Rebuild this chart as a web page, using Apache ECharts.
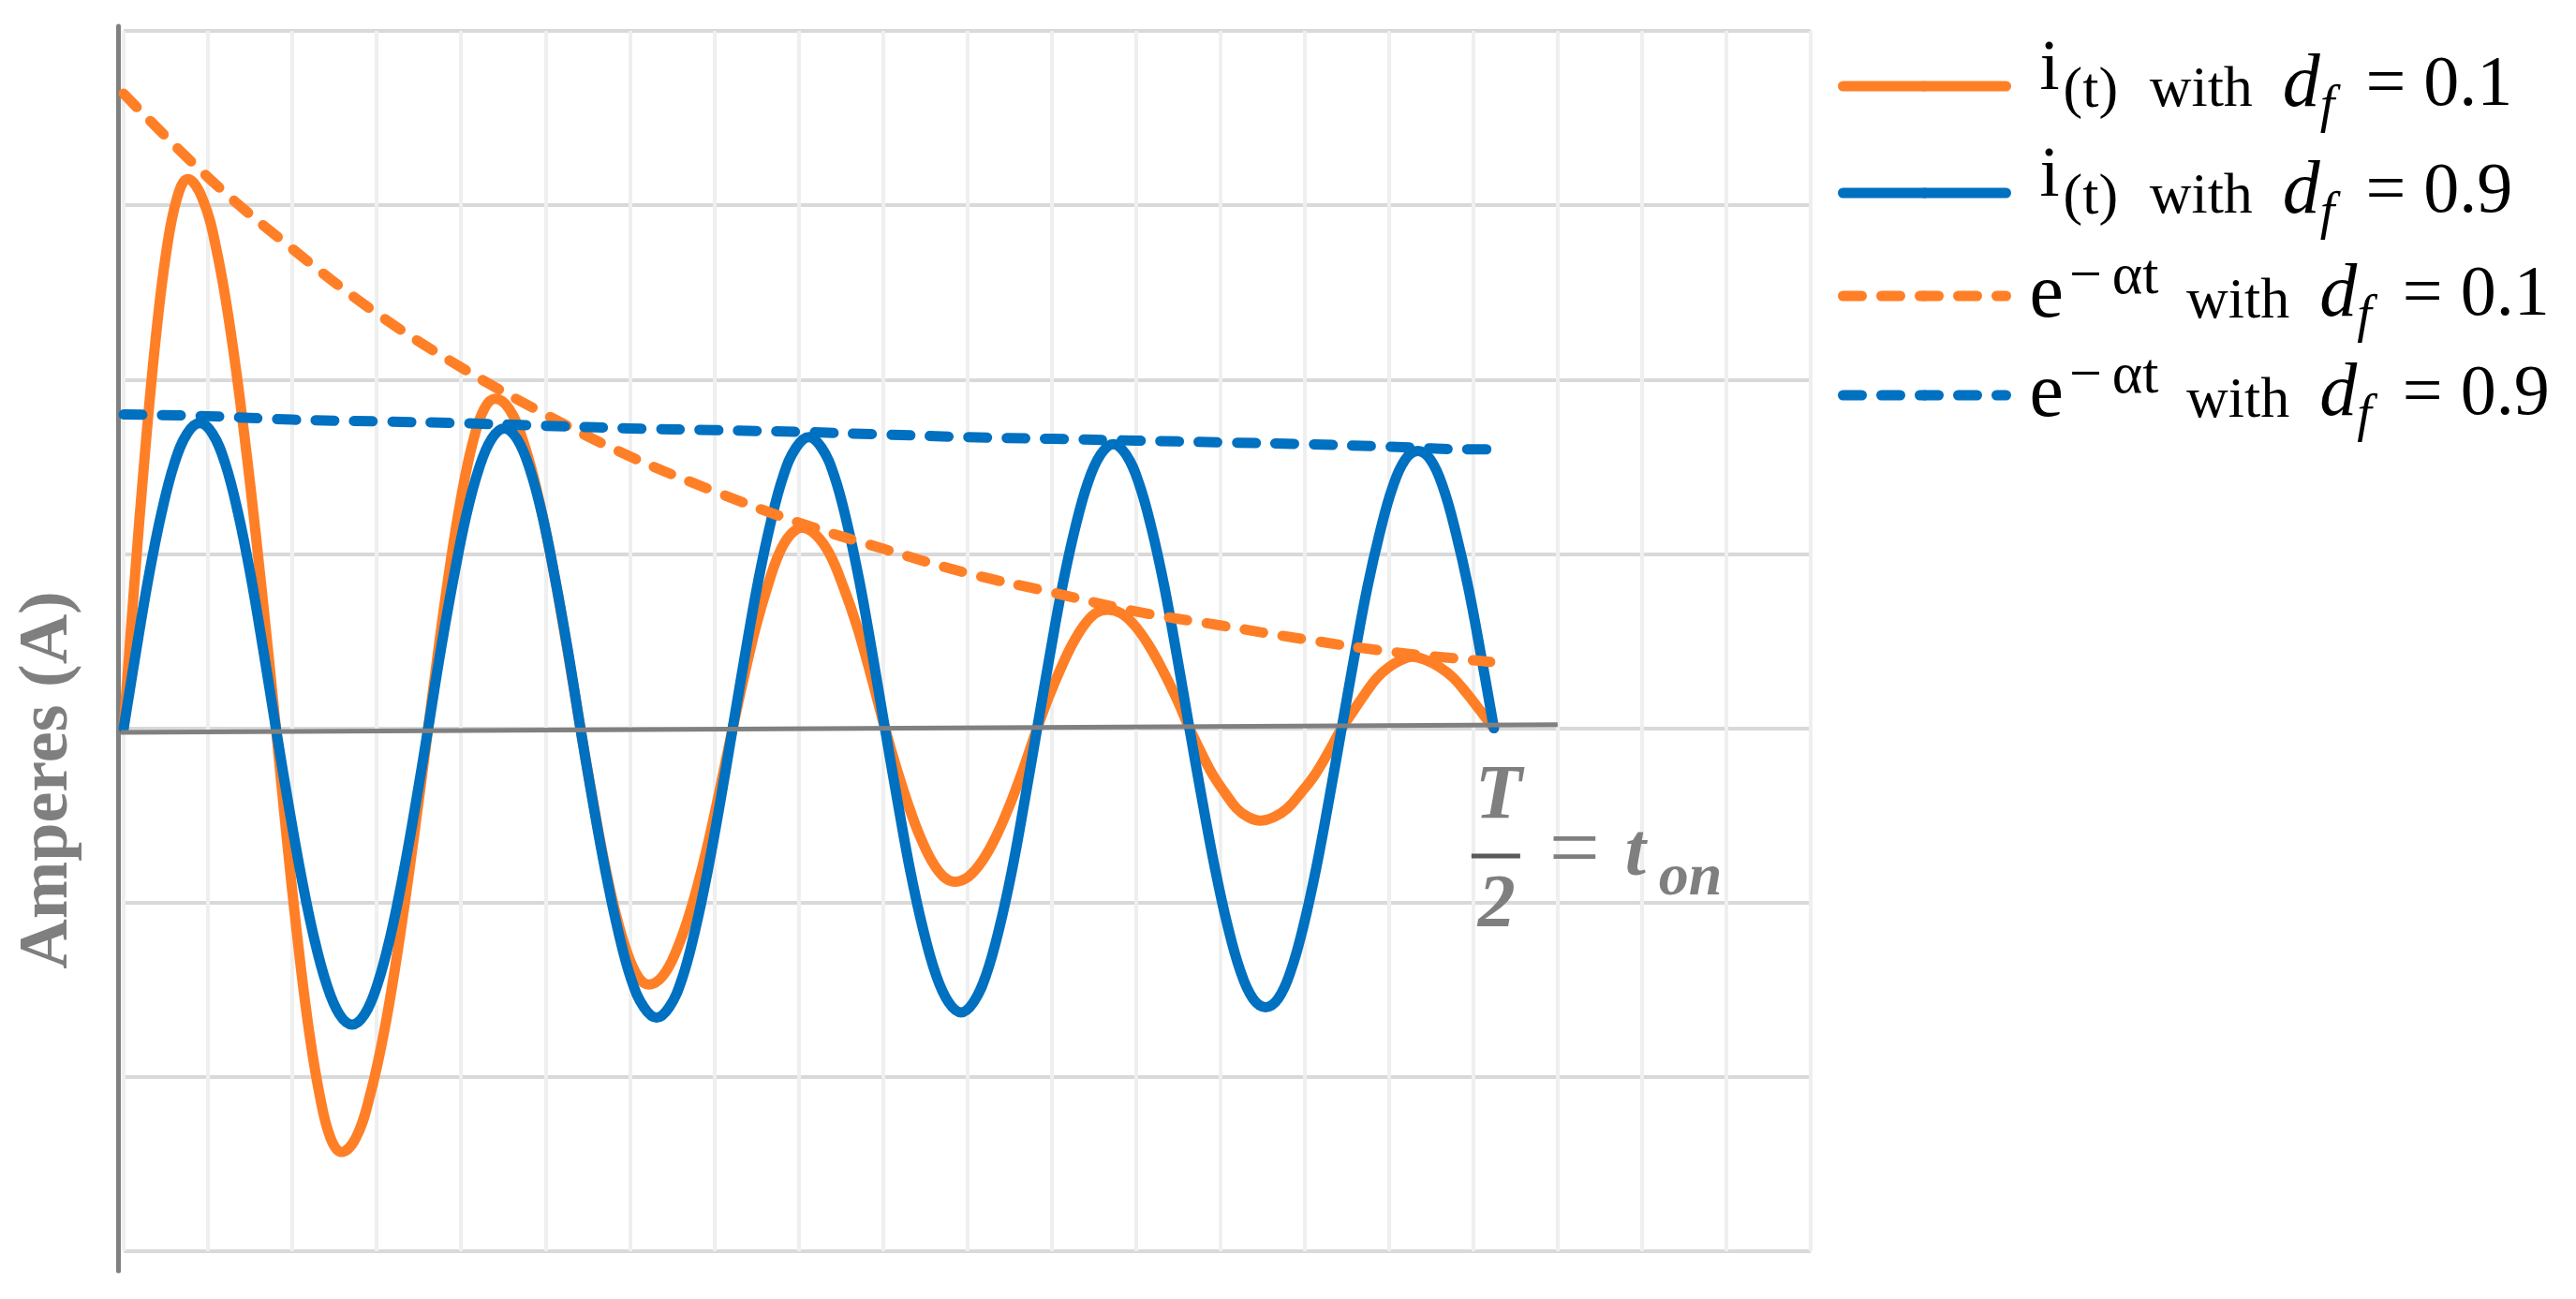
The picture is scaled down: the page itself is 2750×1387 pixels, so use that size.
<!DOCTYPE html>
<html>
<head>
<meta charset="utf-8">
<title>i(t) and e^-at for df = 0.1 / 0.9</title>
<script src="https://cdn.jsdelivr.net/npm/echarts@6.0.0/dist/echarts.min.js"></script>
<style>
    html, body { margin: 0; padding: 0; background: #fff; }
    #main { width: 2750px; height: 1387px; }
</style>
</head>
<body>
<div id="main"></div>
<script>
// i(t), df = 0.9 (blue): sample times and values
var tHigh = [0, 0.150, 0.301, 0.451, 0.602, 0.752, 0.903, 1.053, 1.203, 1.354, 1.504, 1.655,
    1.805, 1.955, 2.106, 2.256, 2.407, 2.557, 2.708, 2.858, 3.008, 3.159, 3.309, 3.460,
    3.61, 3.760, 3.911, 4.061, 4.212, 4.362, 4.513, 4.663, 4.813, 4.964, 5.114, 5.265,
    5.415, 5.565, 5.716, 5.866, 6.017, 6.167, 6.318, 6.468, 6.618, 6.769, 6.919, 7.070,
    7.22, 7.370, 7.521, 7.671, 7.822, 7.972, 8.123, 8.273, 8.423, 8.574, 8.724, 8.875,
    9.025, 9.175, 9.326, 9.476, 9.627, 9.777, 9.928, 10.078, 10.228, 10.379, 10.529, 10.680,
    10.83, 10.980, 11.131, 11.281, 11.432, 11.582, 11.733, 11.883, 12.033, 12.184, 12.334, 12.485,
    12.635, 12.785, 12.936, 13.086, 13.237, 13.387, 13.538, 13.688, 13.838, 13.989, 14.139, 14.290,
    14.44, 14.590, 14.741, 14.891, 15.042, 15.192, 15.343, 15.493, 15.643, 15.794, 15.944, 16.095,
    16.245];
var iHigh = [0, 0.45, 0.88, 1.24, 1.52, 1.69, 1.75, 1.69, 1.52, 1.24, 0.88, 0.45,
    0, -0.44, -0.85, -1.20, -1.47, -1.64, -1.70, -1.64, -1.47, -1.20, -0.85, -0.44,
    0, 0.45, 0.86, 1.22, 1.49, 1.66, 1.72, 1.66, 1.49, 1.22, 0.86, 0.45,
    0, -0.43, -0.83, -1.17, -1.44, -1.60, -1.66, -1.60, -1.44, -1.17, -0.83, -0.43,
    0, 0.43, 0.84, 1.18, 1.45, 1.61, 1.67, 1.61, 1.45, 1.18, 0.84, 0.43,
    0, -0.42, -0.82, -1.15, -1.41, -1.57, -1.63, -1.57, -1.41, -1.15, -0.82, -0.42,
    0, 0.42, 0.82, 1.15, 1.41, 1.57, 1.63, 1.57, 1.41, 1.15, 0.82, 0.42,
    0, -0.41, -0.80, -1.13, -1.39, -1.55, -1.60, -1.55, -1.39, -1.13, -0.80, -0.41,
    0, 0.41, 0.80, 1.12, 1.38, 1.54, 1.59, 1.54, 1.38, 1.12, 0.80, 0.41,
    0];

// i(t), df = 0.1 (orange): peaks come a little before the middle of each half cycle
var tLow = [0, 0.126, 0.253, 0.379, 0.505, 0.632, 0.758, 0.933, 1.107, 1.282, 1.456, 1.631,
    1.805, 1.934, 2.064, 2.193, 2.322, 2.452, 2.581, 2.753, 2.924, 3.096, 3.267, 3.439,
    3.61, 3.742, 3.875, 4.007, 4.139, 4.272, 4.404, 4.573, 4.741, 4.910, 5.078, 5.247,
    5.415, 5.550, 5.686, 5.821, 5.957, 6.092, 6.227, 6.393, 6.558, 6.724, 6.889, 7.055,
    7.22, 7.357, 7.494, 7.631, 7.768, 7.904, 8.041, 8.205, 8.369, 8.533, 8.697, 8.861,
    9.025, 9.163, 9.302, 9.440, 9.579, 9.717, 9.855, 10.018, 10.180, 10.343, 10.505, 10.668,
    10.83, 10.968, 11.107, 11.245, 11.384, 11.522, 11.660, 11.823, 11.985, 12.148, 12.310, 12.473,
    12.635, 12.775, 12.915, 13.055, 13.195, 13.334, 13.474, 13.635, 13.796, 13.957, 14.118, 14.279,
    14.44, 14.580, 14.720, 14.860, 15.000, 15.139, 15.279, 15.440, 15.601, 15.762, 15.923, 16.084,
    16.245];
var iLow = [0, 0.82, 1.58, 2.23, 2.73, 3.04, 3.15, 3.04, 2.73, 2.23, 1.58, 0.82,
    0, -0.63, -1.22, -1.72, -2.10, -2.35, -2.43, -2.35, -2.10, -1.72, -1.22, -0.63,
    0, 0.49, 0.95, 1.34, 1.64, 1.83, 1.89, 1.83, 1.64, 1.34, 0.95, 0.49,
    0, -0.38, -0.74, -1.04, -1.27, -1.42, -1.47, -1.42, -1.27, -1.04, -0.74, -0.38,
    0, 0.30, 0.58, 0.81, 1.00, 1.11, 1.15, 1.11, 1.00, 0.81, 0.58, 0.30,
    0, -0.23, -0.44, -0.62, -0.76, -0.85, -0.88, -0.85, -0.76, -0.62, -0.44, -0.23,
    0, 0.18, 0.34, 0.48, 0.59, 0.66, 0.68, 0.66, 0.59, 0.48, 0.34, 0.18,
    0, -0.14, -0.27, -0.37, -0.46, -0.51, -0.53, -0.51, -0.46, -0.37, -0.27, -0.14,
    0, 0.10, 0.20, 0.29, 0.35, 0.39, 0.41, 0.39, 0.35, 0.29, 0.20, 0.10,
    0];

// envelopes e^-at
var envT = [0, 1, 2, 3, 4, 5, 6, 7, 8, 9, 10, 11, 12, 13, 14, 15, 16, 16.2];
var envLow = [3.64, 3.16, 2.75, 2.38, 2.07, 1.80, 1.56, 1.36, 1.18, 1.03, 0.89, 0.78, 0.67, 0.59, 0.51, 0.44, 0.39, 0.38];
var envHigh = [1.80, 1.79, 1.77, 1.76, 1.75, 1.735, 1.72, 1.71, 1.70, 1.685, 1.67, 1.66, 1.65, 1.64, 1.63, 1.615, 1.60, 1.60];

// hand drawn zero line (slightly tilted in the original)
var zeroLineT = [-0.08, 17];
var zeroLineV = [-0.024, 0.021];

var tEnd = 16.245;   // T/2 = t_on

var names = ['i(t) with df = 0.1', 'i(t) with df = 0.9', 'e^-αt with df = 0.1', 'e^-αt with df = 0.9'];

var ORANGE = '#FF7F27', BLUE = '#0070C0', GRAY = '#7F7F7F';
var SERIF = 'Liberation Serif';

function pairs(xs, ys) {
    var out = [];
    for (var i = 0; i < xs.length; i++) {
        out.push([xs[i], ys[i]]);
    }
    return out;
}

function curve(name, xs, ys, color, dashed) {
    return {
        name: name,
        type: 'line',
        data: pairs(xs, ys),
        smooth: 0.4,
        symbol: 'none',
        showSymbol: false,
        itemStyle: { color: color },
        lineStyle: {
            color: color,
            width: 11,
            type: dashed ? [20, 21] : 'solid',
            cap: 'round',
            join: 'round'
        }
    };
}

// legend labels, math written with rich text
var legendText = {};
legendText[names[0]] = '{iBig|i}{par|(t)}{w1| with}{d|d}{f|f}{eq| = 0.1}';
legendText[names[1]] = '{iBig|i}{par|(t)}{w1| with}{d|d}{f|f}{eq| = 0.9}';
legendText[names[2]] = '{e|e}{m|−}{a|αt}{w2| with}{d|d}{f|f}{eq| = 0.1}';
legendText[names[3]] = '{e|e}{m|−}{a|αt}{w2| with}{d|d}{f|f}{eq| = 0.9}';

function tok(size, pad, italic) {
    return {
        fontFamily: SERIF,
        fontSize: size,
        fontStyle: italic ? 'italic' : 'normal',
        color: '#000',
        lineHeight: 112,
        padding: pad
    };
}

var myChart = echarts.init(document.getElementById('main'));

var option = {
    animation: false,
    backgroundColor: '#fff',
    grid: [
        { left: 132, top: 33, right: 817, bottom: 51 },
        // only carries the long grey y axis line
        { left: 126, top: 28, width: 10, height: 1329 }
    ],
    xAxis: [{
        type: 'value',
        gridIndex: 0,
        min: 0,
        max: 20,
        interval: 1,
        z: 1,
        axisLine: { show: false },
        axisTick: { show: false },
        axisLabel: { show: false },
        splitLine: { show: true, lineStyle: { color: '#EFEFEF', width: 4 } }
    }, {
        type: 'value',
        gridIndex: 1,
        min: 0,
        max: 1,
        show: false
    }],
    yAxis: [{
        type: 'value',
        gridIndex: 0,
        min: -3,
        max: 4,
        interval: 1,
        axisLine: { show: false },
        axisTick: { show: false },
        axisLabel: { show: false },
        splitLine: { show: true, lineStyle: { color: '#D9D9D9', width: 4 } }
    }, {
        type: 'value',
        gridIndex: 1,
        min: 0,
        max: 1,
        position: 'left',
        axisLine: { show: true, lineStyle: { color: '#808080', width: 5 } },
        axisTick: { show: false },
        axisLabel: { show: false },
        splitLine: { show: false }
    }],
    legend: {
        data: names,
        orient: 'vertical',
        left: 1962,
        top: 37,
        padding: 0,
        itemGap: 4,
        itemWidth: 174,
        itemHeight: 14,
        selectedMode: false,
        lineStyle: { width: 11 },
        formatter: function (name) {
            return legendText[name];
        },
        textStyle: {
            fontFamily: SERIF,
            color: '#000',
            rich: {
                iBig: tok(76, [0, 0, 34, 31]),
                par: tok(62, [12, 0, 0, 4]),
                w1: tok(62, [10, 0, 0, 18]),
                e: tok(82, [0, 0, 0, 20]),
                m: tok(62, [0, 0, 38, 6]),
                a: tok(62, [0, 0, 38, 11]),
                w2: tok(62, [14, 0, 0, 14]),
                d: tok(80, [0, 0, 0, 32], true),
                f: tok(56, [46, 14, 0, 0], true),
                eq: tok(76, [0, 0, 0, 0])
            }
        }
    },
    series: [
        curve(names[0], tLow, iLow, ORANGE, false),
        curve(names[1], tHigh, iHigh, BLUE, false),
        curve(names[2], envT, envLow, ORANGE, true),
        curve(names[3], envT, envHigh, BLUE, true),
        {
            name: 'zero',
            type: 'line',
            data: pairs(zeroLineT, zeroLineV),
            symbol: 'none',
            clip: false,
            silent: true,
            lineStyle: { color: '#808080', width: 5 }
        }
    ]
};
myChart.setOption(option);

// axis name and the T/2 = t_on note, placed from the end of the curves
var p = myChart.convertToPixel({ gridIndex: 0 }, [tEnd, 0]);

function note(text, x, y, size, align, weight, style) {
    return {
        type: 'text',
        x: x,
        y: y,
        z: 10,
        style: {
            text: text,
            fontFamily: SERIF,
            fontSize: size,
            fontWeight: weight,
            fontStyle: style,
            fill: GRAY,
            align: align,
            verticalAlign: 'middle'
        }
    };
}

var yName = note('Amperes (A)', 52, 833, 74, 'center', 'bold', 'normal');
yName.rotation = Math.PI / 2;

myChart.setOption({
    graphic: [
        yName,
        note('T', p[0] + 5, p[1] + 74, 82, 'center', 'bold', 'italic'),
        {
            type: 'rect',
            z: 10,
            shape: { x: p[0] - 24, y: p[1] + 134, width: 52, height: 5 },
            style: { fill: '#595959' }
        },
        note('2', p[0] + 3, p[1] + 191, 80, 'center', 'bold', 'italic'),
        note('=', p[0] + 59, p[1] + 134, 96, 'left', 'normal', 'normal'),
        note('t', p[0] + 140, p[1] + 136, 80, 'left', 'bold', 'italic'),
        note('on', p[0] + 176, p[1] + 161, 64, 'left', 'bold', 'italic')
    ]
});
</script>
</body>
</html>
